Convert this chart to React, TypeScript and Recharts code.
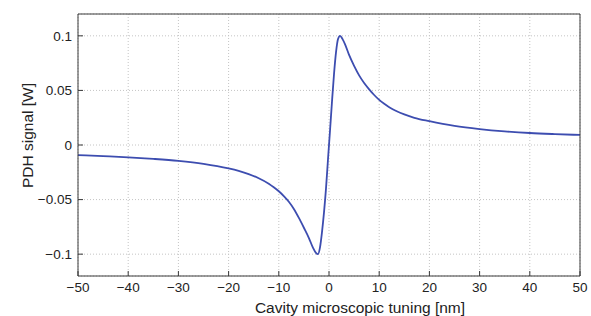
import React from "react";
import { LineChart, Line, XAxis, YAxis, CartesianGrid, Label } from "recharts";

const tuning = [-50, -45, -40, -35, -30, -25, -20, -18, -16, -14, -12, -11, -10, -9, -8, -7, -6, -5, -4, -3.2, -2.6, -2.2, -1.8, -1.4, -1, -0.6, -0.2, 0.2, 0.6, 1, 1.4, 1.8, 2.2, 2.7, 3.2, 4, 5, 6, 7, 8, 9, 10, 11, 12, 13.5, 15, 17, 20, 25, 30, 35, 40, 45, 50];
const pdhSignal = [-0.0092, -0.0102, -0.0113, -0.0127, -0.0145, -0.0172, -0.0214, -0.0237, -0.0266, -0.0304, -0.0354, -0.0387, -0.0424, -0.0468, -0.052, -0.0586, -0.0668, -0.0758, -0.0852, -0.094, -0.0988, -0.1, -0.094, -0.08, -0.062, -0.04, -0.013, 0.013, 0.04, 0.065, 0.085, 0.097, 0.1, 0.097, 0.0922, 0.0825, 0.0725, 0.0638, 0.0568, 0.051, 0.0458, 0.0413, 0.0377, 0.0346, 0.0309, 0.028, 0.0249, 0.0218, 0.0175, 0.0146, 0.0125, 0.011, 0.01, 0.0092];
const xTicks = [-50, -40, -30, -20, -10, 0, 10, 20, 30, 40, 50];
const yTicks = [-0.1, -0.05, 0, 0.05, 0.1];
const xLabel = "Cavity microscopic tuning [nm]";
const yLabel = "PDH signal [W]";

const data = tuning.map((x, i) => ({ x, y: pdhSignal[i] }));

const FONT = "'Liberation Sans', Arial, Helvetica, sans-serif";
const AXIS = "#3a3a3a";
const fmt = (v: number) => String(v).replace("-", "\u2212");

export default function App() {
  return (
    <div style={{ position: "absolute", left: 0, top: 0 }}>
      <LineChart width={591} height={316} data={data} margin={{ top: 4, right: 0, bottom: 0, left: 0 }}>
        <CartesianGrid stroke="#c4c4c4" strokeDasharray="1 2" />
        <XAxis
          dataKey="x"
          type="number"
          domain={[-50, 50]}
          ticks={xTicks}
          height={40}
          tickSize={-5}
          tickMargin={11}
          tickFormatter={fmt}
          stroke={AXIS}
          tick={{ fill: "#222", fontSize: 13.5, fontFamily: FONT }}
          interval={0}
        >
          <Label
            content={() => (
              <text x={360} y={312.5} textAnchor="middle" fontSize={15.5} fontFamily={FONT} fill="#222">
                {xLabel}
              </text>
            )}
          />
        </XAxis>
        <XAxis
          xAxisId="top"
          orientation="top"
          type="number"
          dataKey="x"
          domain={[-50, 50]}
          ticks={xTicks}
          height={10}
          tickSize={-5}
          tick={false}
          stroke={AXIS}
        />
        <YAxis
          type="number"
          domain={[-0.12, 0.12]}
          ticks={yTicks}
          width={78}
          tickSize={-5}
          tickMargin={11}
          tickFormatter={fmt}
          stroke={AXIS}
          tick={{ fill: "#222", fontSize: 13.5, fontFamily: FONT }}
          interval={0}
        >
          <Label
            content={() => (
              <text
                x={33}
                y={135.5}
                textAnchor="middle"
                fontSize={15.5}
                fontFamily={FONT}
                fill="#222"
                transform="rotate(-90, 33, 135.5)"
              >
                {yLabel}
              </text>
            )}
          />
        </YAxis>
        <YAxis
          yAxisId="right"
          orientation="right"
          type="number"
          domain={[-0.12, 0.12]}
          ticks={yTicks}
          width={11}
          tickSize={-5}
          tick={false}
          stroke={AXIS}
        />
        <Line
          type="monotone"
          dataKey="y"
          stroke="#3d4db0"
          strokeWidth={1.8}
          dot={false}
          isAnimationActive={false}
        />
      </LineChart>
    </div>
  );
}
